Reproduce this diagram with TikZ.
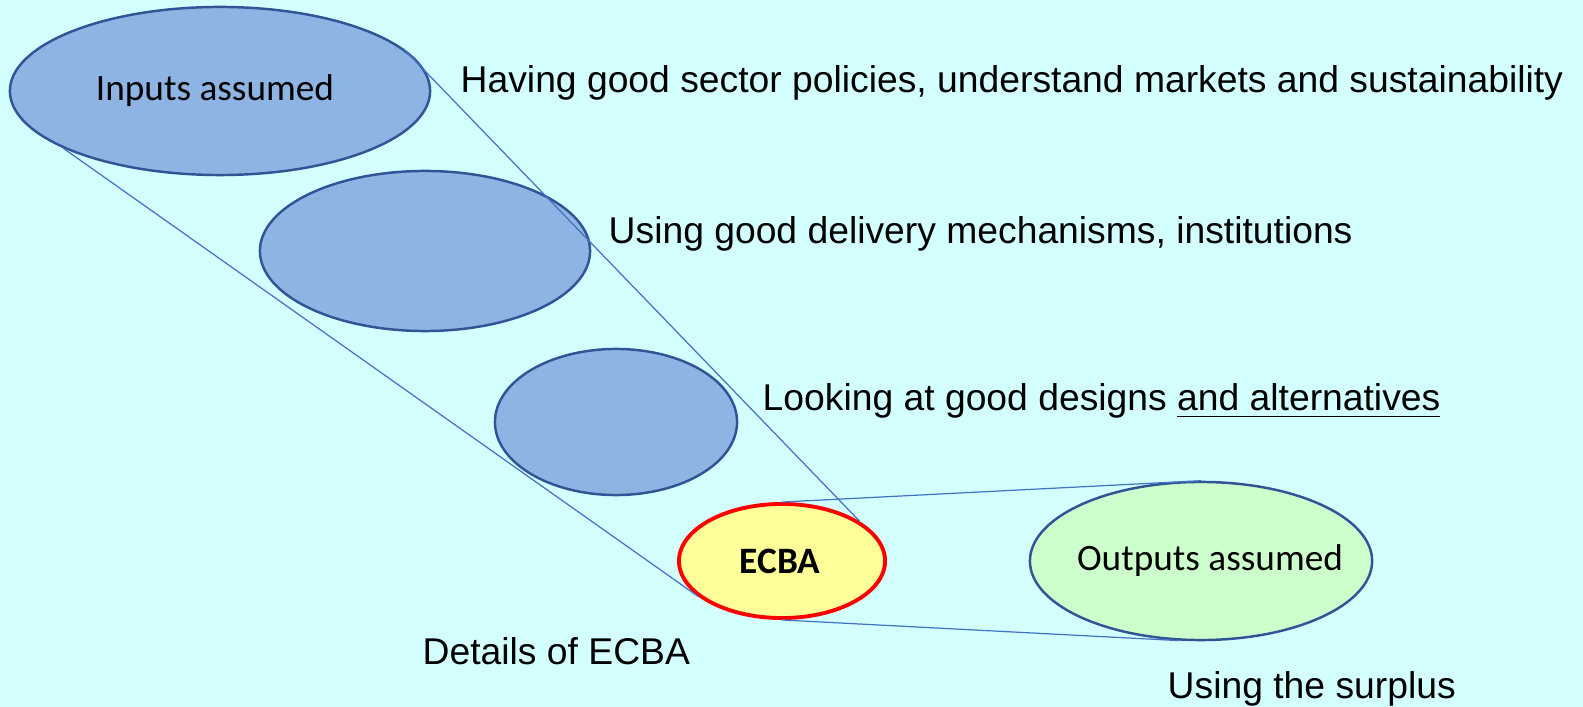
\documentclass[tikz,border=0pt]{standalone}
\usepackage{fontspec}
\setmainfont{Liberation Sans}
\newfontfamily\calib{Carlito}
\usetikzlibrary{shapes.geometric}
\definecolor{bg}{HTML}{D4FFFF}
\definecolor{blobblue}{HTML}{8DB4E2}
\definecolor{edgeblue}{HTML}{2F5597}
\definecolor{linkblue}{HTML}{4472C4}
\definecolor{ecbafill}{HTML}{FFFF99}
\definecolor{outfill}{HTML}{CCFFCC}
\begin{document}
\begin{tikzpicture}[x=0.01cm,y=-0.01cm,
  blob/.style={ellipse, draw=edgeblue, line width=0.7pt, inner sep=0pt},
  intext/.style={inner sep=0pt, font=\calib\fontsize{10.6}{12}\selectfont},
  conn/.style={draw=linkblue, line width=0.35pt},
  lbl/.style={inner sep=0pt, anchor=base west, font=\fontsize{10.6}{12}\selectfont}]
\fill[bg] (0,0) rectangle (1583,707);
\useasboundingbox (0,0) rectangle (1583,707);
\node[blob, fill=blobblue, minimum width=4.20cm, minimum height=1.68cm] (e1) at (220,91) {};
\node[blob, fill=blobblue, minimum width=3.30cm, minimum height=1.60cm] (e2) at (425,251) {};
\node[blob, fill=blobblue, minimum width=2.42cm, minimum height=1.46cm] (e3) at (616,422) {};
\node[blob, fill=ecbafill, draw=red, line width=1.1pt, minimum width=2.06cm, minimum height=1.14cm] (ecba) at (782,561) {};
\node[blob, fill=outfill, minimum width=3.42cm, minimum height=1.58cm] (out) at (1201,561) {};
\node[intext] (e1txt) at (215,91) {Inputs assumed};
\node[intext, font=\calib\bfseries\fontsize{10.6}{12}\selectfont] (ecbatxt) at (780,561) {ECBA};
\node[intext] (outtxt) at (1210,561) {Outputs assumed};
\draw[conn] (e1.13) -- (ecba.27);
\draw[conn] (e1.200) -- (ecba.203);
\draw[conn] (ecba.north) -- (out.north);
\draw[conn] (ecba.south) -- (out.255);
\node[lbl] (t1) at (460,93) {Having good sector policies, understand markets and sustainability};
\node[lbl] (t2) at (608,244) {Using good delivery mechanisms, institutions};
\node[lbl] (t3) at (762,411) {Looking at good designs \underline{and alternatives}};
\node[lbl] (t4) at (422,664) {Details of ECBA};
\node[lbl] (t5) at (1167,698) {Using the surplus};
\end{tikzpicture}
\end{document}
